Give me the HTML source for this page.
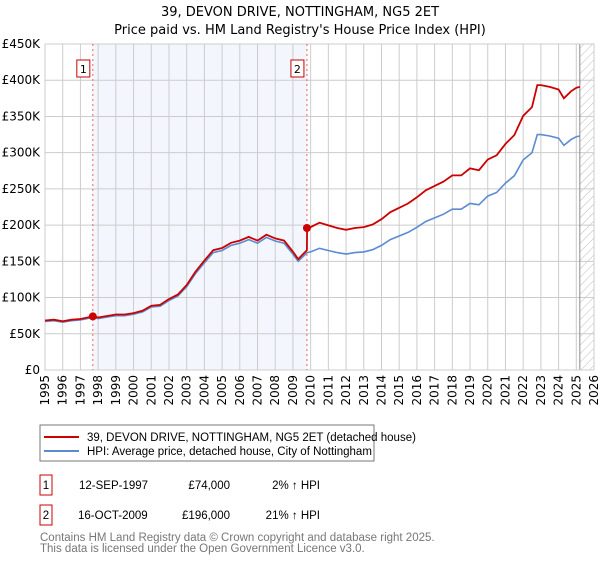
<!DOCTYPE html>
<html><head><meta charset="utf-8"><style>
body{margin:0;background:#fff;font-family:"Liberation Sans","DejaVu Sans",sans-serif;}
svg text{font-family:"DejaVu Sans","Liberation Sans",sans-serif;}
svg .lib{font-family:"Liberation Sans","DejaVu Sans",sans-serif;}
</style></head><body>
<svg width="600" height="560" viewBox="0 0 600 560">
<defs><pattern id="hatch" width="6" height="6" patternUnits="userSpaceOnUse" patternTransform="rotate(45)"><line x1="0" y1="0" x2="0" y2="6" stroke="#bbb" stroke-width="1"/></pattern></defs>
<text x="300" y="16" text-anchor="middle" font-size="13">39, DEVON DRIVE, NOTTINGHAM, NG5 2ET</text>
<text x="300" y="34" text-anchor="middle" font-size="13">Price paid vs. HM Land Registry's House Price Index (HPI)</text>
<g id="plot"></g>
<g>
<rect x="40" y="425" width="334" height="36" fill="#fff" stroke="#777"/>
<line x1="44" y1="437" x2="79" y2="437" stroke="#cc0000" stroke-width="2"/>
<text class="lib" x="87" y="441" font-size="11.5">39, DEVON DRIVE, NOTTINGHAM, NG5 2ET (detached house)</text>
<line x1="44" y1="451" x2="79" y2="451" stroke="#5b8bd0" stroke-width="2"/>
<text class="lib" x="87" y="455" font-size="11.5">HPI: Average price, detached house, City of Nottingham</text>
</g>
<g font-size="11.5" class="lib">
<rect x="40" y="475" width="12" height="20" fill="#fff" stroke="#cc0000"/><text class="lib" x="46" y="489" text-anchor="middle">1</text>
<text class="lib" x="79" y="489">12-SEP-1997</text><text class="lib" x="230" y="489" text-anchor="end">£74,000</text><text class="lib" x="320" y="489" text-anchor="end">2% ↑ HPI</text>
<rect x="40" y="505" width="12" height="20" fill="#fff" stroke="#cc0000"/><text class="lib" x="46" y="519" text-anchor="middle">2</text>
<text class="lib" x="78" y="519">16-OCT-2009</text><text class="lib" x="230" y="519" text-anchor="end">£196,000</text><text class="lib" x="320" y="519" text-anchor="end">21% ↑ HPI</text>
</g>
<text class="lib" x="40" y="541" font-size="11.5" fill="#777">Contains HM Land Registry data © Crown copyright and database right 2025.</text>
<text class="lib" x="40" y="552" font-size="11.5" fill="#777">This data is licensed under the Open Government Licence v3.0.</text>
</svg>
<script>
const hpiYears=[1995,1995.5,1996,1996.5,1997,1997.7,1998,1998.5,1999,1999.5,2000,2000.5,2001,2001.5,2002,2002.5,2003,2003.5,2004,2004.5,2005,2005.5,2006,2006.5,2007,2007.5,2008,2008.5,2009,2009.3,2009.8,2010,2010.5,2011,2011.5,2012,2012.5,2013,2013.5,2014,2014.5,2015,2015.5,2016,2016.5,2017,2017.5,2018,2018.5,2019,2019.5,2020,2020.5,2021,2021.5,2022,2022.5,2022.8,2023,2023.5,2024,2024.3,2024.7,2025,2025.2];
const hpiValues=[67,68,66,68,69,72.5,71,73,75,75,77,80,87,88,96,102,115,133,148,162,165,172,175,180,175,183,178,175,160,150,162,163,168,165,162,160,162,163,166,172,180,185,190,197,205,210,215,222,222,230,228,240,245,258,268,290,300,325,325,323,320,310,318,322,323];
const sale1=[1997.7,74];
const sale2=[2009.79,196];
const yTicks=[0,50,100,150,200,250,300,350,400,450];
const xTicks=[1995,1996,1997,1998,1999,2000,2001,2002,2003,2004,2005,2006,2007,2008,2009,2010,2011,2012,2013,2014,2015,2016,2017,2018,2019,2020,2021,2022,2023,2024,2025,2026];
const X0=45,X1=594,Y0=370,Y1=44;
const xs=y=>X0+(y-1995)/(2026-1995)*(X1-X0);
const ys=v=>Y0-v/450*(Y0-Y1);
const NS='http://www.w3.org/2000/svg';
const g=document.getElementById('plot');
function mk(t,a){const e=document.createElementNS(NS,t);for(const k in a)e.setAttribute(k,a[k]);g.appendChild(e);return e;}
let e;
e=mk('rect',{x:xs(sale1[0]),y:Y1,width:xs(sale2[0])-xs(sale1[0]),height:Y0-Y1,fill:'#eef3fc',opacity:0.7});


e=mk('rect',{x:xs(2025.2),y:Y1,width:X1-xs(2025.2),height:Y0-Y1,fill:'url(#hatch)'});


yTicks.forEach(v=>{
 e=mk('line',{x1:X0,x2:X1,y1:ys(v),y2:ys(v),stroke:'#ccc'});
 
 
 e=mk('text',{x:40,y:ys(v)+4,'text-anchor':'end','font-size':12});
 
 
 e.textContent=v===0?'£0':'£'+v+'K';
});
xTicks.forEach(yr=>{
 e=mk('line',{x1:xs(yr),x2:xs(yr),y1:Y1,y2:Y0,stroke:'#ccc'});
 
 
 e=mk('text',{x:0,y:0,'font-size':12,'text-anchor':'end',transform:`translate(${xs(yr)+4},375) rotate(-90)`});
 
 
 e.textContent=yr;
});
e=mk('line',{x1:xs(2025.2),x2:xs(2025.2),y1:Y1,y2:Y0,stroke:'#888'});


e=mk('rect',{x:X0,y:Y1,width:X1-X0,height:Y0-Y1,fill:'none',stroke:'#ccc'});


[sale1,sale2].forEach((s,i)=>{
 e=mk('line',{x1:xs(s[0]),x2:xs(s[0]),y1:Y1,y2:Y0,stroke:'#f06060','stroke-dasharray':'2,3'});
 
 
 e=mk('rect',{x:xs(s[0])-16,y:60,width:13,height:17,fill:'#fff',stroke:'#cc0000'});
 
 
 e=mk('text',{x:xs(s[0])-9.5,y:73,'text-anchor':'middle','font-size':11});
 
 
 e.textContent=String(i+1);
});
const hpiPts=hpiYears.map((y,i)=>xs(y).toFixed(1)+','+ys(hpiValues[i]).toFixed(1)).join(' ');
e=mk('polyline',{points:hpiPts,fill:'none',stroke:'#5b8bd0','stroke-width':1.6});


const f1=sale1[1]/hpiValues[hpiYears.indexOf(sale1[0])];
const f2=sale2[1]/hpiValues[hpiYears.indexOf(2009.8)];
const redPts=[];
hpiYears.forEach((y,i)=>{
 if(y<=sale2[0]) redPts.push([y,hpiValues[i]*f1]);
 if(y>=2009.8){ if(y===2009.8) redPts.push([sale2[0],hpiValues[i]*f1]); redPts.push([y,hpiValues[i]*f2]); }
});
e=mk('polyline',{points:redPts.map(p=>xs(p[0]).toFixed(1)+','+ys(p[1]).toFixed(1)).join(' '),fill:'none',stroke:'#cc0000','stroke-width':1.8});


[sale1,sale2].forEach(s=>{
 e=mk('circle',{cx:xs(s[0]),cy:ys(s[1]),r:4,fill:'#cc0000'});
 
 
});
</script>
</body></html>
